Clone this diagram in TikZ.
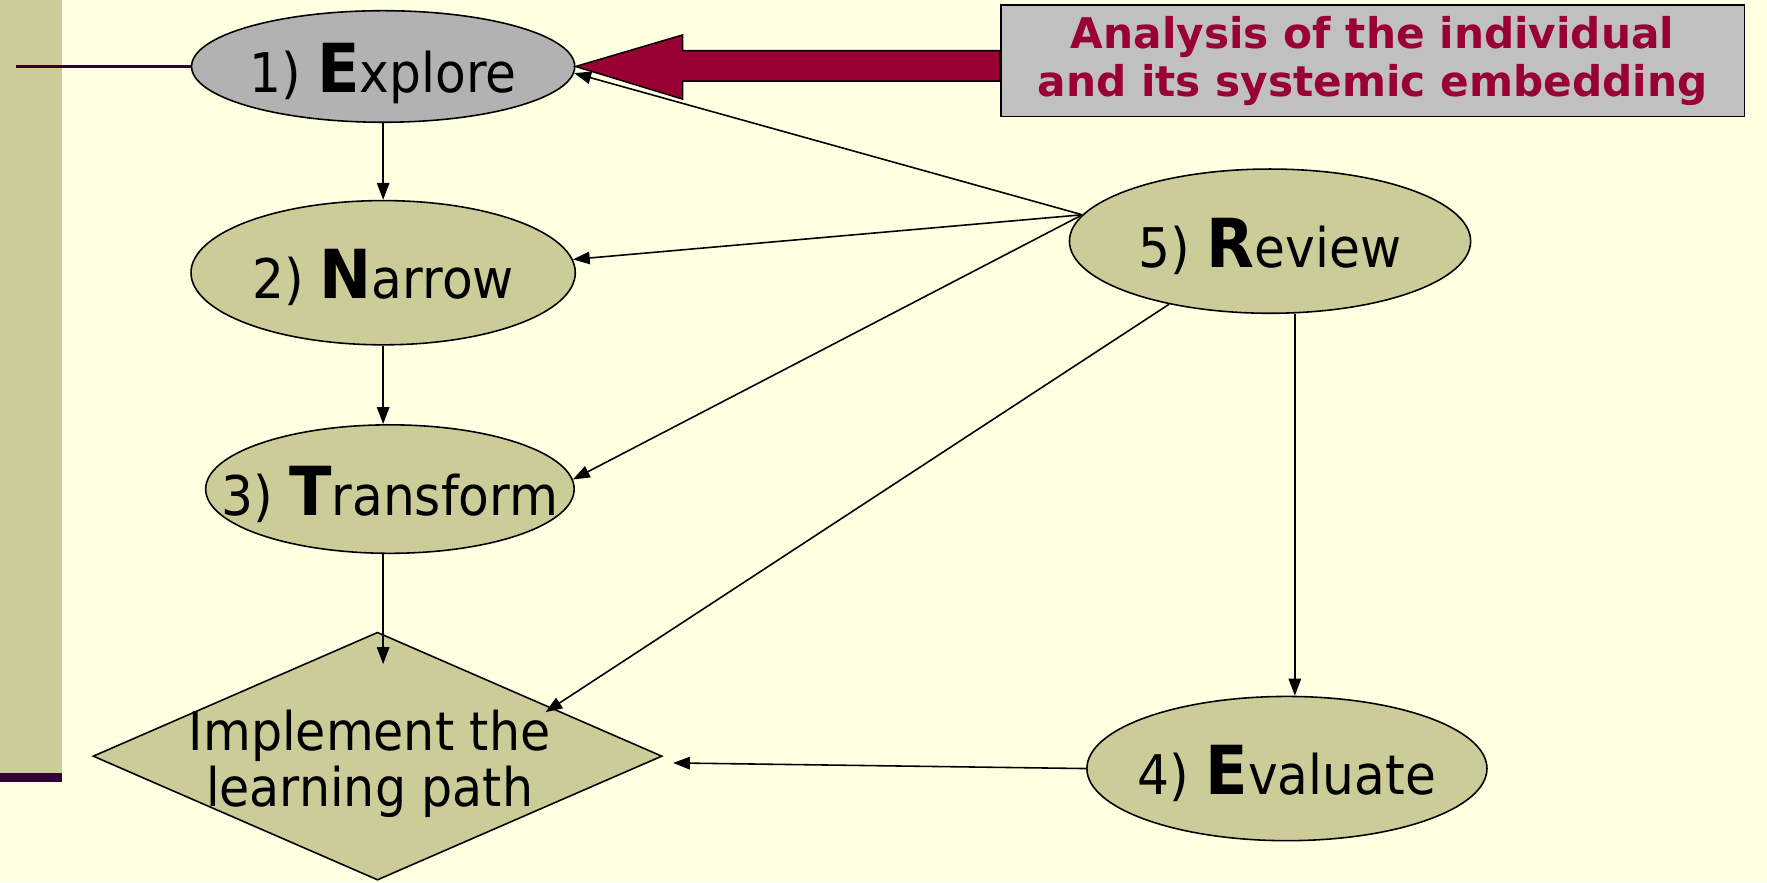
\documentclass[tikz,border=0pt]{standalone}
\usepackage{fontspec}
\setmainfont{DejaVu Sans}
% slightly narrowed face for the step labels
\newfontfamily\stepfont[FakeStretch=0.92]{DejaVu Sans}
\usetikzlibrary{shapes.geometric,arrows.meta,calc}

\definecolor{bgyellow}{RGB}{255,255,225}
\definecolor{olive}{RGB}{204,204,153}
\definecolor{nodegray}{RGB}{178,178,178}
\definecolor{boxgray}{RGB}{192,192,192}
\definecolor{wine}{RGB}{153,0,51}
\definecolor{plum}{RGB}{51,0,51}

% big bold initial letter of each step
\newcommand\stepinit[1]{{\fontsize{60}{64}\selectfont\bfseries #1}}
% step label: zero-size box whose baseline sits 23pt below the node centre
\newcommand\steplabel[1]{\makebox[0pt]{\raisebox{-23pt}[0pt][0pt]{#1}}}

\begin{document}
\begin{tikzpicture}[x=1pt,y=-1pt,
  every node/.style={font=\fontsize{48.5}{54}\stepfont},
  stepnode/.style={ellipse, draw=black, line width=1.4pt, fill=olive, inner sep=0pt},
  flow/.style={draw=black, line width=1.4pt, -{Triangle[length=15pt,width=11pt]}}]

% page background and left margin bar
\fill[bgyellow] (0,0) rectangle (1568,783);
\useasboundingbox (0,0) rectangle (1568,783);
\fill[olive] (0,0) rectangle (55,686);
\fill[plum] (0,686) rectangle (55,694);

% steps
\node[stepnode, fill=nodegray, minimum width=340pt, minimum height=99pt] (explore) at (340,59)
  {\steplabel{1) \stepinit{E}xplore}};
\node[stepnode, minimum width=341pt, minimum height=128pt] (narrow) at (340,242)
  {\steplabel{2) \stepinit{N}arrow}};
\node[stepnode, minimum width=327pt, minimum height=114pt] (transform) at (346,434)
  {\steplabel{3) \stepinit{T}ransform}};
\node[stepnode, minimum width=356pt, minimum height=128pt] (review) at (1127,214)
  {\steplabel{5) \stepinit{R}eview}};
\node[stepnode, minimum width=355pt, minimum height=128pt] (evaluate) at (1142,682)
  {\steplabel{4) \stepinit{E}valuate}};

% decision diamond
\node[diamond, draw=black, line width=1.4pt, fill=olive, inner sep=0pt,
      minimum width=505pt, minimum height=220pt] (impl) at (335,671) {};
\node[align=center, inner sep=0pt, font=\fontsize{47.3}{50}\stepfont] (impltext) at (328,678)
  {Implement the\\learning path};

% analysis box
\node[draw=black, line width=1.5pt, fill=boxgray, minimum width=660pt, minimum height=99pt,
      inner sep=0pt, align=center, text=wine,
      font=\fontsize{37.5}{43}\selectfont\rmfamily\bfseries] (analysis) at (1218,54)
  {Analysis of the individual\\and its systemic embedding};

% margin line into the first step
\coordinate (lstart) at (14,59);
\draw[plum, line width=3.2pt] (lstart) -- (explore.west);

% broad arrow from the analysis box to the first step
\draw[fill=wine, draw=black, line width=1.3pt]
  (analysis.west |- 0,45) -- ($(explore.east)+(95,-14)$) -- ($(explore.east)+(95,-28)$)
  -- (explore.east) -- ($(explore.east)+(95,29)$) -- ($(explore.east)+(95,13)$)
  -- (analysis.west |- 0,72) -- cycle;

% main sequence, all on the column of the first step
\draw[flow] (explore.south) -- (narrow.north);
\draw[flow] (narrow.south) -- (narrow.south |- transform.north);
\draw[flow] (narrow.south |- transform.south) -- ($(impl.north)+(5,29)$);

% review feedback
\coordinate (rv) at (review.172);
\draw[flow] (rv) -- (explore.-2);
\draw[flow] (rv) -- (narrow.4);
\draw[flow] (rv) -- (transform.3);
\draw[flow] (review.212) -- ($(impl.center)+(149,-39)$);
\draw[flow] (review.south -| 1149,0) -- (evaluate.north -| 1149,0);
\draw[flow] (evaluate.west) -- ($(impl.east)+(9,6)$);
\end{tikzpicture}
\end{document}
